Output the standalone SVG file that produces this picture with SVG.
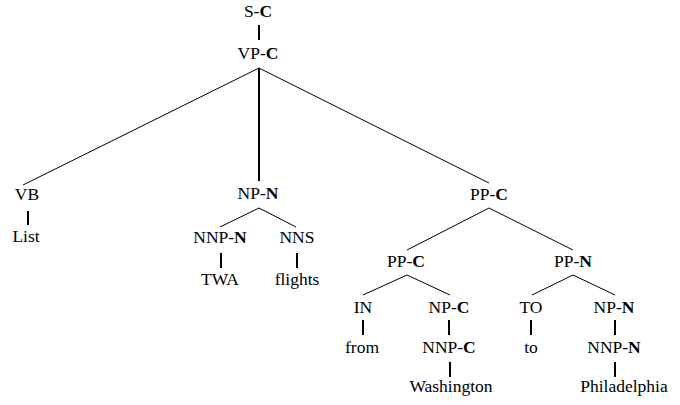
<svg xmlns="http://www.w3.org/2000/svg" width="680" height="405" viewBox="0 0 680 405">
<rect width="680" height="405" fill="#fff"/>
<g id="connectors" stroke="#000" fill="none">
<line stroke-width="2" x1="259" y1="25" x2="259" y2="40"/>
<line stroke-width="1" x1="259" y1="68" x2="23" y2="185"/>
<line stroke-width="2" x1="259" y1="68" x2="259" y2="181"/>
<line stroke-width="1" x1="259" y1="68" x2="489" y2="183"/>
<line stroke-width="2" x1="28" y1="211" x2="28" y2="225"/>
<line stroke-width="1" x1="259" y1="208" x2="220" y2="227"/>
<line stroke-width="1" x1="259" y1="208" x2="296" y2="227"/>
<line stroke-width="2" x1="221" y1="253" x2="221" y2="268"/>
<line stroke-width="2" x1="297" y1="253" x2="297" y2="268"/>
<line stroke-width="1" x1="489" y1="208" x2="407" y2="250"/>
<line stroke-width="1" x1="489" y1="208" x2="573" y2="250"/>
<line stroke-width="1" x1="407" y1="275" x2="363" y2="295"/>
<line stroke-width="1" x1="407" y1="275" x2="450" y2="295"/>
<line stroke-width="1" x1="573" y1="275" x2="532" y2="295"/>
<line stroke-width="1" x1="573" y1="275" x2="615" y2="295"/>
<line stroke-width="2" x1="363" y1="320" x2="363" y2="335"/>
<line stroke-width="2" x1="449" y1="320" x2="449" y2="335"/>
<line stroke-width="2" x1="531" y1="320" x2="531" y2="335"/>
<line stroke-width="2" x1="615" y1="320" x2="615" y2="335"/>
<line stroke-width="2" x1="450" y1="362" x2="450" y2="377"/>
<line stroke-width="2" x1="615" y1="362" x2="615" y2="377"/>
</g>
<g id="labels" font-size="17.5" text-anchor="middle">
<g id="n-sc"><text font-family="Liberation Serif" x="258" y="17">S-<tspan font-weight="bold">C</tspan></text></g>
<g id="n-vpc"><text font-family="Liberation Serif" x="258" y="59">VP-<tspan font-weight="bold">C</tspan></text></g>
<g id="n-vb"><text font-family="Liberation Serif" x="27" y="200">VB</text></g>
<g id="n-list"><text font-family="Liberation Serif" x="26" y="242">List</text></g>
<g id="n-npn"><text font-family="Liberation Serif" x="258" y="199">NP-<tspan font-weight="bold">N</tspan></text></g>
<g id="n-nnpn"><text font-family="Liberation Serif" x="220" y="243">NNP-<tspan font-weight="bold">N</tspan></text></g>
<g id="n-nns"><text font-family="Liberation Serif" x="297" y="243">NNS</text></g>
<g id="n-twa"><text font-family="Liberation Serif" x="220" y="285">TWA</text></g>
<g id="n-flights"><text font-family="Liberation Serif" x="297" y="285">flights</text></g>
<g id="n-ppc1"><text font-family="Liberation Serif" x="489" y="200">PP-<tspan font-weight="bold">C</tspan></text></g>
<g id="n-ppc2"><text font-family="Liberation Serif" x="406" y="267">PP-<tspan font-weight="bold">C</tspan></text></g>
<g id="n-ppn"><text font-family="Liberation Serif" x="573" y="267">PP-<tspan font-weight="bold">N</tspan></text></g>
<g id="n-in"><text font-family="Liberation Serif" x="363" y="313">IN</text></g>
<g id="n-npc"><text font-family="Liberation Serif" x="449" y="313">NP-<tspan font-weight="bold">C</tspan></text></g>
<g id="n-to"><text font-family="Liberation Serif" x="531" y="313">TO</text></g>
<g id="n-npn2"><text font-family="Liberation Serif" x="614" y="313">NP-<tspan font-weight="bold">N</tspan></text></g>
<g id="n-from"><text font-family="Liberation Serif" x="362" y="353">from</text></g>
<g id="n-nnpc"><text font-family="Liberation Serif" x="449" y="353">NNP-<tspan font-weight="bold">C</tspan></text></g>
<g id="n-tow"><text font-family="Liberation Serif" x="531" y="353">to</text></g>
<g id="n-nnpn2"><text font-family="Liberation Serif" x="614" y="353">NNP-<tspan font-weight="bold">N</tspan></text></g>
<g id="n-washington"><text font-family="Liberation Serif" x="451" y="392">Washington</text></g>
<g id="n-philadelphia"><text font-family="Liberation Serif" x="624" y="392">Philadelphia</text></g>
</g>
</svg>
